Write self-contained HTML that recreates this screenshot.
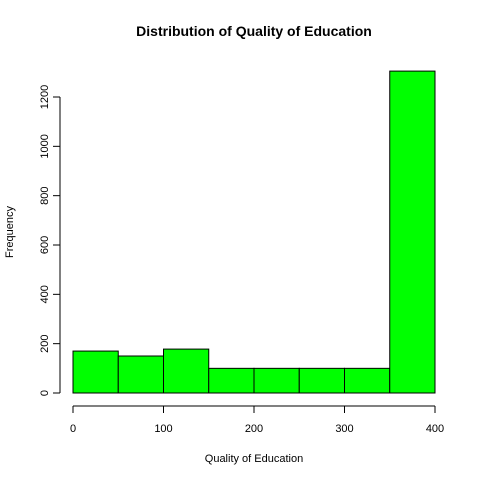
<!DOCTYPE html>
<html><head><meta charset="utf-8"><style>body{margin:0;background:#fff}svg{display:block;font-family:"Liberation Sans",Arial,sans-serif}</style></head>
<body>
<svg width="480" height="480" viewBox="0 0 480 480">
<text x="254" y="36" text-anchor="middle" font-size="14" font-weight="bold">Distribution of Quality of Education</text>
<text x="254" y="462" text-anchor="middle" font-size="11">Quality of Education</text>
<text transform="translate(13,232) rotate(-90)" text-anchor="middle" font-size="11">Frequency</text>
<g id="bars"></g><g id="xaxis"></g><g id="yaxis"></g>
</svg>
<script>
const binStarts=[0,50,100,150,200,250,300,350];
const binWidth=50;
const counts=[170,150,178,100,100,100,100,1305];
const xTicks=[0,100,200,300,400];
const yTicks=[0,200,400,600,800,1000,1200];
const ns="http://www.w3.org/2000/svg";
const X=v=>73+v*(435-73)/400;
const Y=v=>393-v*(393-97)/1200;
function mk(t,a,p){const e=document.createElementNS(ns,t);for(const k in a)e.setAttribute(k,a[k]);p.appendChild(e);return e;}
const bars=document.getElementById('bars');
binStarts.forEach((s,i)=>{const r=mk('rect',{x:X(s),y:Y(counts[i]),width:X(s+binWidth)-X(s),height:Y(0)-Y(counts[i]),fill:'#00ff00',stroke:'#000','stroke-width':1},bars);

});
const xa=document.getElementById('xaxis');
const xl=mk('line',{x1:X(xTicks[0]),x2:X(xTicks[xTicks.length-1]),y1:406,y2:406,stroke:'#000'},xa);


xTicks.forEach(t=>{mk('line',{x1:X(t),x2:X(t),y1:406,y2:413,stroke:'#000'},xa);
const tx=mk('text',{x:X(t),y:432,'text-anchor':'middle','font-size':11},xa);tx.textContent=t;

});
const ya=document.getElementById('yaxis');
const yl=mk('line',{x1:60,x2:60,y1:Y(yTicks[0]),y2:Y(yTicks[yTicks.length-1]),stroke:'#000'},ya);


yTicks.forEach(t=>{mk('line',{x1:53,x2:60,y1:Y(t),y2:Y(t),stroke:'#000'},ya);
const tx=mk('text',{transform:`translate(48,${Y(t)}) rotate(-90)`,'text-anchor':'middle','font-size':11},ya);tx.textContent=t;

});
</script>
</body></html>
